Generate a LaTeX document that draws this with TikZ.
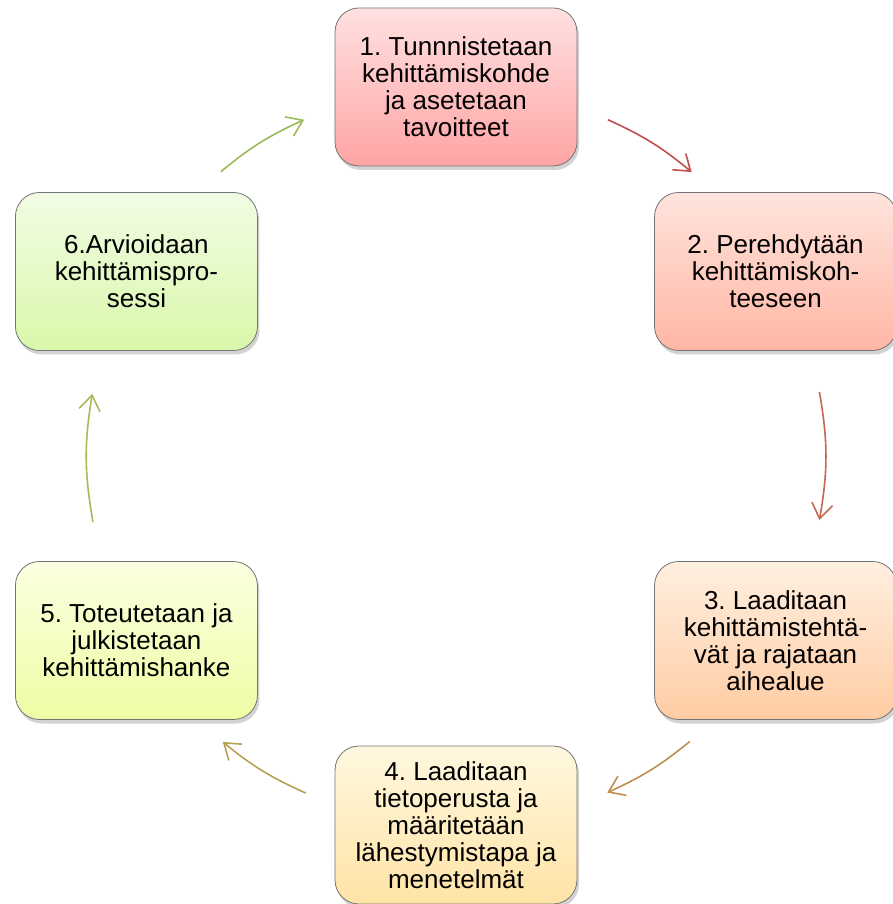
\documentclass[tikz,border=0pt]{standalone}
\usepackage{fontspec}
\setmainfont{Liberation Sans}
\usetikzlibrary{arrows.meta,shadows}
\frenchspacing

\definecolor{topA}{HTML}{FFE1E1}\definecolor{botA}{HTML}{FFA4A4}
\definecolor{topB}{HTML}{FFE4DD}\definecolor{botB}{HTML}{FFB6A4}
\definecolor{topC}{HTML}{FFEFE0}\definecolor{botC}{HTML}{FFCCA3}
\definecolor{topD}{HTML}{FFF8DF}\definecolor{botD}{HTML}{FFE3A6}
\definecolor{topE}{HTML}{FBFFE0}\definecolor{botE}{HTML}{F0FCA4}
\definecolor{topF}{HTML}{F1FCE4}\definecolor{botF}{HTML}{D9F8AA}
\definecolor{arrA}{HTML}{C0504D}
\definecolor{arrB}{HTML}{C2694F}
\definecolor{arrC}{HTML}{C08E52}
\definecolor{arrD}{HTML}{B7A152}
\definecolor{arrE}{HTML}{A9B95A}
\definecolor{arrF}{HTML}{9BBB59}

\begin{document}
\begin{tikzpicture}[x=1pt,y=1pt,
    box/.style={rectangle,rounded corners=24pt,draw=black!55,line width=0.8pt,
      minimum width=242pt,minimum height=158pt,align=center,
      font=\fontsize{26}{27}\selectfont,
      drop shadow={shadow xshift=2pt,shadow yshift=-4pt,opacity=0.35}},
    arr/.style={-{Straight Barb[length=15pt,width=21pt]},line width=1.6pt}]
  \useasboundingbox (-456,-448) rectangle (436,456);

  \node[box,top color=topA,bottom color=botA] (b1) at (90:369pt)
    {1. Tunnnistetaan\\kehittämiskohde\\ja asetetaan\\tavoitteet};
  \node[box,top color=topB,bottom color=botB] (b2) at (30:369pt)
    {2. Perehdytään\\kehittämiskoh-\\teeseen};
  \node[box,top color=topC,bottom color=botC] (b3) at (-30:369pt)
    {3. Laaditaan\\kehittämistehtä-\\vät ja rajataan\\aihealue};
  \node[box,top color=topD,bottom color=botD] (b4) at (-90:369pt)
    {4. Laaditaan\\tietoperusta ja\\määritetään\\lähestymistapa ja\\menetelmät};
  \node[box,top color=topE,bottom color=botE] (b5) at (-150:369pt)
    {5. Toteutetaan ja\\julkistetaan\\kehittämishanke};
  \node[box,top color=topF,bottom color=botF] (b6) at (150:369pt)
    {6.Arvioidaan\\kehittämispro-\\sessi};

  % arrow ends on the circle
  \coordinate (s1) at (65.7:369pt);   \coordinate (e1) at (50.3:369pt);
  \coordinate (s2) at (10:369pt);     \coordinate (e2) at (-10:369pt);
  \coordinate (s3) at (-50.7:369pt);  \coordinate (e3) at (-65.8:369pt);
  \coordinate (s4) at (-114:369pt);   \coordinate (e4) at (-129.2:369pt);
  \coordinate (s5) at (-169.7:369pt); \coordinate (e5) at (170.3:369pt);
  \coordinate (s6) at (129.6:369pt);  \coordinate (e6) at (114.3:369pt);

  \draw[arr,arrA] (s1) to[bend left=7.7] (e1);
  \draw[arr,arrB] (s2) to[bend left=10] (e2);
  \draw[arr,arrC] (s3) to[bend left=7.5] (e3);
  \draw[arr,arrD] (s4) to[bend left=7.6] (e4);
  \draw[arr,arrE] (s5) to[bend left=9.7] (e5);
  \draw[arr,arrF] (s6) to[bend left=7.6] (e6);
\end{tikzpicture}
\end{document}
